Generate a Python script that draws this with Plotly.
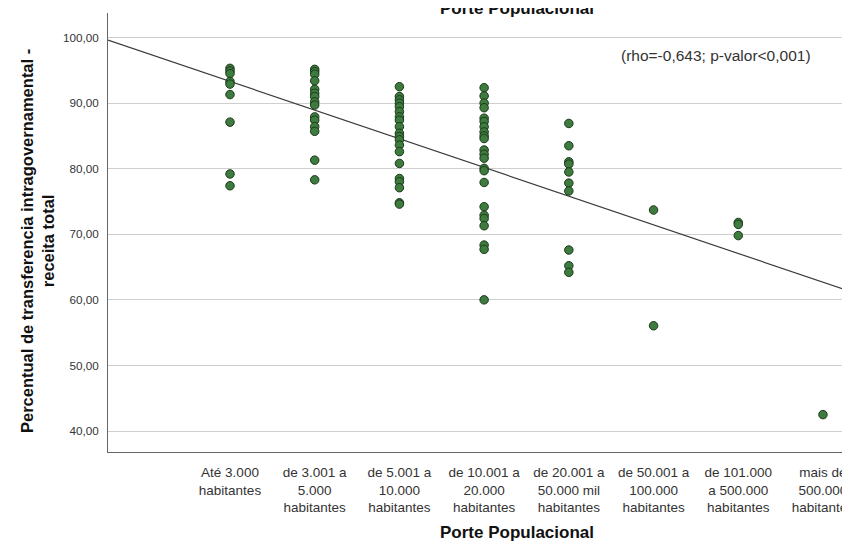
import plotly.graph_objects as go

categories = [
    "Até 3.000<br>habitantes",
    "de 3.001 a<br>5.000<br>habitantes",
    "de 5.001 a<br>10.000<br>habitantes",
    "de 10.001 a<br>20.000<br>habitantes",
    "de 20.001 a<br>50.000 mil<br>habitantes",
    "de 50.001 a<br>100.000<br>habitantes",
    "de 101.000<br>a 500.000<br>habitantes",
    "mais de<br>500.000<br>habitantes",
]

ate_3000 = [95.3, 94.9, 94.5, 93.3, 92.9, 91.3, 87.1, 79.2, 77.4]
de_3001_5000 = [95.15, 94.8, 94.4, 93.4, 92.1, 91.5, 91.0, 90.2, 89.7, 87.9,
                87.4, 86.4, 85.7, 81.3, 78.3]
de_5001_10000 = [92.5, 91.0, 90.5, 90.0, 89.45, 88.7, 87.9, 87.4, 86.4, 85.4,
                 84.9, 84.4, 83.6, 82.6, 80.8, 78.5, 78.0, 77.1, 74.8, 74.6]
de_10001_20000 = [92.35, 91.1, 90.0, 89.3, 87.7, 87.2, 86.4, 85.6, 85.0, 84.6,
                  82.85, 82.2, 81.6, 80.05, 79.7, 77.9, 74.2, 72.9, 72.4, 71.3,
                  68.35, 67.7, 60.0]
de_20001_50000 = [86.9, 83.5, 81.05, 80.7, 79.5, 77.8, 76.6, 67.6, 65.2, 64.2]
de_50001_100000 = [73.7, 56.05]
de_101000_500000 = [71.8, 71.5, 69.8]
mais_500000 = [42.5]

groups = [ate_3000, de_3001_5000, de_5001_10000, de_10001_20000,
          de_20001_50000, de_50001_100000, de_101000_500000, mais_500000]

y_ticks = [40, 50, 60, 70, 80, 90, 100]
y_ticktext = ["40,00", "50,00", "60,00", "70,00", "80,00", "90,00", "100,00"]

reg_intercept = 97.68
reg_slope = -4.373
annotation_text = "(rho=-0,643; p-valor<0,001)"
title_text = "Porte Populacional"
x_title_text = "Porte Populacional"
y_title_text = "Percentual de transferencia intragovernamental -<br>receita total"

x_range = [-0.44, 8.319]
y_range = [36.8, 103.74]

xs, ys = [], []
for i, g in enumerate(groups):
    xs += [i + 1] * len(g)
    ys += g

fig = go.Figure()
fig.add_trace(go.Scatter(
    x=x_range, y=[reg_intercept + reg_slope * v for v in x_range],
    mode="lines", line=dict(color="#3a3a3a", width=1.2),
    hoverinfo="skip", showlegend=False,
))
fig.add_trace(go.Scatter(
    x=xs, y=ys, mode="markers",
    marker=dict(size=8.5, color="#3e7b3e", line=dict(color="#1b381b", width=1)),
    showlegend=False,
))

font_family = "Liberation Sans, Arial, sans-serif"

# the page body has an 8px margin, so the figure is offset by 8px
fig.update_layout(
    width=842, height=537,
    margin=dict(l=100, r=0, t=5, b=93, autoexpand=False),
    paper_bgcolor="white", plot_bgcolor="white",
    font=dict(family=font_family, color="#333333", size=12),
    xaxis=dict(
        range=x_range, tickmode="array",
        tickvals=list(range(1, len(categories) + 1)), ticktext=categories,
        showgrid=False, zeroline=False, automargin=False,
        showline=True, linecolor="#666666", linewidth=1,
        ticks="", ticklabelstandoff=8, ticklabeloverflow="allow",
        tickfont=dict(size=13.5, color="#333333"),
    ),
    yaxis=dict(
        range=y_range, tickmode="array", tickvals=y_ticks, ticktext=y_ticktext,
        showgrid=True, gridcolor="#cfcfcf", gridwidth=1, zeroline=False,
        automargin=False,
        showline=True, linecolor="#666666", linewidth=1,
        ticks="", ticklabelstandoff=6,
        tickfont=dict(size=11.7, color="#333333"),
    ),
    annotations=[
        dict(text=annotation_text, xref="paper", yref="paper",
             x=0.950, y=1.0, xanchor="right", yanchor="middle",
             yshift=-42, showarrow=False,
             font=dict(size=15.5, color="#333333")),
        dict(text="<b>" + x_title_text + "</b>", xref="paper", yref="paper",
             x=0.551, y=0, xanchor="center", yanchor="middle",
             yshift=-80, showarrow=False,
             font=dict(size=17, color="#111111")),
        dict(text="<b>" + title_text + "</b>", xref="paper", yref="paper",
             x=0.551, y=1.0, xanchor="center", yanchor="middle",
             yshift=5, showarrow=False,
             font=dict(size=17, color="#111111")),
        dict(text="<b>" + y_title_text + "</b>", xref="paper", yref="paper",
             x=0, y=0.5, xanchor="center", yanchor="middle",
             xshift=-71, yshift=-8.5, textangle=-90, showarrow=False,
             font=dict(size=16.5, color="#111111")),
    ],
)

fig.write_html("out.html")
